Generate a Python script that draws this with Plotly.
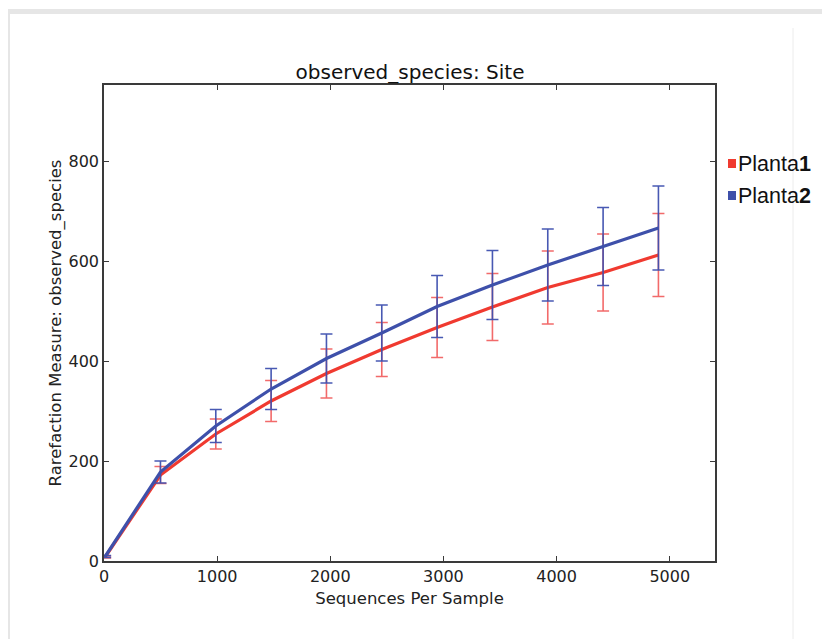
import plotly.graph_objects as go

# ---- data ----
seqs = [10, 499, 988, 1477, 1966, 2455, 2944, 3433, 3922, 4411, 4900]
planta1_mean = [8, 172, 254, 320, 375, 423, 467, 508, 547, 577, 612]
planta1_err = [2, 17, 30, 41, 49, 54, 60, 67, 73, 77, 83]
planta2_mean = [9, 178, 270, 344, 405, 456, 509, 552, 592, 629, 666]
planta2_err = [2, 22, 33, 41, 49, 56, 62, 69, 72, 78, 84]
series_names = ["Planta1", "Planta2"]
x_ticks = [0, 1000, 2000, 3000, 4000, 5000]
y_ticks = [0, 200, 400, 600, 800]

RED = "rgb(240,58,48)"
RED_ERR = "rgba(240,80,80,0.85)"
BLUE = "rgb(62,80,170)"
BLUE_ERR = "rgba(62,80,175,0.95)"

OFF = 8  # page body margin
W, H = 830 - OFF, 639 - OFF
# plot area in page pixels: x 104..715, y 85..561
L, T = 104 - OFF, 85 - OFF
PW, PH = 715 - 104, 561 - 85
R, B = W - L - PW, H - T - PH


def px(xp):  # page pixel -> paper x
    return (xp - OFF - L) / PW


def py(yp):  # page pixel -> paper y
    return (T + PH - (yp - OFF)) / PH


fig = go.Figure()
fig.add_trace(go.Scatter(
    x=seqs, y=planta1_mean, mode="lines", name=series_names[0],
    line=dict(color=RED, width=3.2), showlegend=False,
    error_y=dict(type="data", array=planta1_err, color=RED_ERR, thickness=1.6, width=6),
))
fig.add_trace(go.Scatter(
    x=seqs, y=planta2_mean, mode="lines", name=series_names[1],
    line=dict(color=BLUE, width=3.2), showlegend=False,
    error_y=dict(type="data", array=planta2_err, color=BLUE_ERR, thickness=1.6, width=6),
))

axis_common = dict(
    showgrid=False, zeroline=False, showline=True, linecolor="#3a3a3a", linewidth=1.5,
    mirror="ticks", ticks="inside", ticklen=5, tickwidth=1.2, tickcolor="#3a3a3a",
    tickfont=dict(family="DejaVu Sans", size=16, color="#222"),
)

fig.update_xaxes(range=[0, 5400], tickvals=x_ticks, ticktext=[str(v) for v in x_ticks],
                 title=dict(text="Sequences Per Sample", standoff=7,
                            font=dict(family="DejaVu Sans", size=16.5, color="#222")),
                 **axis_common)
fig.update_yaxes(range=[0, 952], tickvals=y_ticks, ticktext=[str(v) for v in y_ticks],
                 title=dict(text="Rarefaction Measure: observed_species", standoff=3,
                            font=dict(family="DejaVu Sans", size=16.5, color="#222")),
                 **axis_common)

shapes = [
    # gray frame (top band and left band)
    dict(type="rect", xref="paper", yref="paper", x0=px(8), x1=px(830), y0=py(14), y1=py(9),
         fillcolor="#e6e6e6", line=dict(width=0), layer="below"),
    dict(type="rect", xref="paper", yref="paper", x0=px(8), x1=px(10), y0=py(639), y1=py(9),
         fillcolor="#e6e6e6", line=dict(width=0), layer="below"),
    # faint vertical line at right
    dict(type="line", xref="paper", yref="paper", x0=px(793), x1=px(793), y0=py(639), y1=py(28),
         line=dict(color="#ececec", width=1), layer="below"),
    # legend squares
    dict(type="rect", xref="paper", yref="paper", x0=px(728), x1=px(736), y0=py(168), y1=py(159),
         fillcolor=RED, line=dict(width=0)),
    dict(type="rect", xref="paper", yref="paper", x0=px(728), x1=px(736), y0=py(200), y1=py(191),
         fillcolor=BLUE, line=dict(width=0)),
]

annotations = [
    dict(text="Planta<b>1</b>", xref="paper", yref="paper", x=px(736), y=py(164),
         xanchor="left", yanchor="middle", showarrow=False,
         font=dict(family="Liberation Sans", size=21.5, color="#111")),
    dict(text="Planta<b>2</b>", xref="paper", yref="paper", x=px(736), y=py(196),
         xanchor="left", yanchor="middle", showarrow=False,
         font=dict(family="Liberation Sans", size=21.5, color="#111")),
]

fig.update_layout(
    width=W, height=H,
    margin=dict(l=L, r=R, t=T, b=B),
    paper_bgcolor="white", plot_bgcolor="white",
    title=dict(text="observed_species: Site", x=(410 - OFF) / W, xanchor="center",
               y=1 - (72 - OFF) / H, yanchor="middle", yref="container",
               font=dict(family="DejaVu Sans", size=20, color="#111")),
    shapes=shapes, annotations=annotations, showlegend=False,
)

fig.write_html("out.html")
